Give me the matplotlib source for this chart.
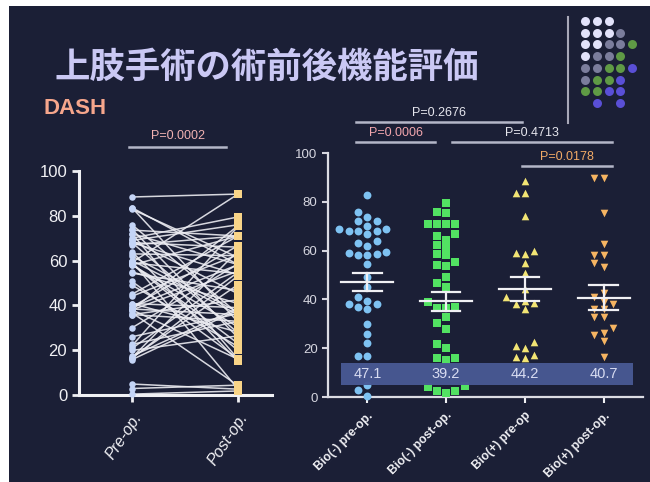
import matplotlib
matplotlib.use('Agg')
import matplotlib.pyplot as plt
from matplotlib.patches import Rectangle
import numpy as np

plt.rcParams['font.family'] = ['Liberation Sans', 'DejaVu Sans']

# DASH scores, one entry per patient (pre and post share the same index)
bio_neg_pre = [82.9, 76.0, 73.6, 72.0, 72.0, 70.0, 69.0, 69.0, 68.0, 68.0, 68.0, 67.0, 64.0,
               63.0, 62.0, 59.6, 59.0, 58.5, 58.0, 58.0, 54.4, 49.0, 45.0, 40.8, 39.3, 38.0,
               38.0, 36.7, 35.9, 30.0, 26.0, 22.0, 16.7, 16.7, 4.9, 2.9, 0.4]
bio_neg_post = [61.4, 36.3, 71.0, 16.0, 58.2, 79.5, 45.2, 76.0, 53.7, 66.0, 27.7, 71.0, 15.0,
                62.2, 37.0, 2.6, 54.2, 19.9, 71.0, 30.4, 46.6, 21.6, 71.0, 39.0, 66.7, 16.0,
                55.3, 4.2, 32.9, 58.5, 36.3, 75.3, 49.3, 64.4, 2.6, 4.4, 1.8]
bio_pos_pre = [88.4, 83.6, 83.6, 74.0, 60.0, 59.2, 58.6, 55.0, 50.7, 44.1, 40.8, 39.2, 38.4,
               38.0, 35.9, 22.6, 20.8, 19.9, 17.4, 16.4, 15.8]
bio_pos_post = [89.7, 32.6, 58.2, 25.6, 35.9, 89.7, 23.0, 40.8, 16.2, 62.6, 28.1, 58.2, 35.9,
                75.6, 42.5, 32.9, 54.8, 26.4, 38.8, 53.2, 38.0]

group_labels = ['Bio(-) pre-op.', 'Bio(-) post-op.', 'Bio(+) pre-op', 'Bio(+) post-op.']
group_means = [47.1, 39.2, 44.2, 40.7]
group_sem = [3.8, 4.0, 5.0, 5.1]
paired_labels = ['Pre-op.', 'Post-op.']

# (x start, x end, y, label, colour)
right_brackets = [
    (-0.14, 0.86, 104.5, 'P=0.0006', '#f2a6ae'),
    (1.08, 3.11, 104.5, 'P=0.4713', '#e6e6ee'),
    (-0.14, 1.96, 112.7, 'P=0.2676', '#e6e6ee'),
    (1.96, 3.11, 94.7, 'P=0.0178', '#f2aa66'),
]
left_bracket = (-0.03, 0.89, 110.7, 'P=0.0002', '#f2b2b2')

BG = '#1b1f36'
FG = '#f0f0f4'


def swarm_offsets(values, px_x, px_y, diam=7.0, step=9.3):
    vals = np.asarray(values)
    offs = np.zeros(len(vals))
    placed = []
    cands = [0] + [s * n for n in range(1, 12) for s in (-1, 1)]
    for i in np.argsort(vals):
        y = vals[i] * px_y
        for c in cands:
            x = c * step
            if all((x - qx) ** 2 + (y - qy) ** 2 >= diam ** 2 for qx, qy in placed):
                break
        placed.append((x, y))
        offs[i] = x / px_x
    return offs


fig = plt.figure(figsize=(6.5, 4.82), dpi=100, facecolor='white')
fig.patches.append(Rectangle((9 / 650, 0), 1, 1 - 6 / 482, transform=fig.transFigure,
                             facecolor=BG, edgecolor='none', zorder=-10))

# decoration layer in pixel units
deco = fig.add_axes([0, 0, 1, 1])
deco.set_xlim(0, 650)
deco.set_ylim(482, 0)
deco.axis('off')
deco.patch.set_alpha(0)
dot_grid = ['WWW..', 'WWWg.', 'WWggG', 'WggG.', 'ggGGB', 'gGGB.', 'GGBB.', '.B.B.']
dot_cols = {'W': '#e2e2fa', 'g': '#7b7d9c', 'G': '#5f9a45', 'B': '#5a4fd6'}
for r, row in enumerate(dot_grid):
    for c, ch in enumerate(row):
        if ch in dot_cols:
            deco.scatter(585 + c * 11.8, 21 + r * 11.7, s=42, color=dot_cols[ch], lw=0)
deco.plot([568, 568], [17, 123], color='#a8a8b8', lw=1.5)

fig.text(55 / 650, 1 - 67 / 482, '上肢手術の術前後機能評価', fontsize=25.5,
         family=['Noto Sans CJK JP', 'DejaVu Sans'], fontweight='bold',
         color='#cac8f4', va='center', ha='left')
fig.text(43 / 650, 1 - 108 / 482, 'DASH', fontsize=16, fontweight='bold',
         color='#f6a68c', va='center', ha='left')

# ---- left: paired plot ----
axl = fig.add_axes([79 / 650, 1 - 395 / 482, 193 / 650, 224 / 482])
axl.patch.set_alpha(0)
pre_all = bio_neg_pre + bio_pos_pre
post_all = bio_neg_post + bio_pos_post
for a, b in zip(pre_all, post_all):
    axl.plot([0, 1], [a, b], color='#ececf2', lw=1.1, alpha=0.9, zorder=2)
axl.scatter(np.zeros(len(pre_all)), pre_all, s=22, marker='o', color='#c4d4f6',
            lw=0, zorder=3, clip_on=False)
axl.scatter(np.ones(len(post_all)), post_all, s=26, marker='s', color='#f8d488',
            lw=0, zorder=3, clip_on=False)
axl.set_xlim(-0.5, 1.32)
axl.set_ylim(0, 100)
axl.set_yticks(range(0, 101, 20))
axl.set_xticks([0, 1])
axl.set_xticklabels(paired_labels, rotation=56, ha='right', va='top',
                    rotation_mode='anchor', fontsize=11.5, color='#e4e4ec')
for lab in axl.get_xticklabels():
    lab.set_style('italic')
axl.tick_params(axis='y', labelsize=12, colors=FG, width=2, length=5, direction='out')
axl.tick_params(axis='x', colors=FG, width=2, length=5, direction='out', pad=6)
for side in ('top', 'right'):
    axl.spines[side].set_visible(False)
for side in ('left', 'bottom'):
    axl.spines[side].set_color(FG)
    axl.spines[side].set_linewidth(2.2)

x0, x1, yb, txt, col = left_bracket
axl.plot([x0, x1], [yb, yb], color='#b4b6c8', lw=1.8, clip_on=False)
axl.text((x0 + x1) / 2, yb + 2.2, txt, ha='center', va='bottom', fontsize=9, color=col)

# ---- right: group scatter with mean and SEM ----
axr = fig.add_axes([328 / 650, 1 - 397 / 482, 315 / 650, 244 / 482])
axr.patch.set_alpha(0)
groups = [bio_neg_pre, bio_neg_post, bio_pos_pre, bio_pos_post]
styles = [('o', '#7ec2f2', 32), ('s', '#52e262', 30), ('^', '#f2e474', 30), ('v', '#f6b462', 30)]
for i, (vals, (mk, col, sz)) in enumerate(zip(groups, styles)):
    offs = swarm_offsets(vals, px_x=78.75, px_y=2.44)
    axr.scatter(i + offs, vals, marker=mk, s=sz, color=col, lw=0, zorder=3, clip_on=False)
    m, e = group_means[i], group_sem[i]
    axr.plot([i - 0.33, i + 0.33], [m, m], color=FG, lw=1.6, zorder=4)
    axr.plot([i, i], [m - e, m + e], color=FG, lw=1.6, zorder=4)
    for yy in (m - e, m + e):
        axr.plot([i - 0.18, i + 0.18], [yy, yy], color=FG, lw=1.6, zorder=4)

axr.add_patch(Rectangle((-0.33, 4.9), 3.70, 9.0, facecolor='#485893', edgecolor='none',
                        alpha=0.97, zorder=5))
for i, m in enumerate(group_means):
    axr.text(i, 9.4, f'{m:.1f}', ha='center', va='center', fontsize=10.5,
             color='#d8dcf2', zorder=6)

axr.set_xlim(-0.5, 3.5)
axr.set_ylim(0, 100)
axr.set_yticks(range(0, 101, 20))
axr.set_xticks(range(4))
axr.set_xticklabels(group_labels, rotation=45, ha='right', va='top', rotation_mode='anchor',
                    fontsize=8.8, fontweight='bold', color=FG)
axr.tick_params(axis='y', labelsize=9.5, colors='#d6d6e0', width=1.5, length=4,
                direction='out')
axr.tick_params(axis='x', colors=FG, width=1.5, length=4, direction='out', pad=5)
for side in ('top', 'right'):
    axr.spines[side].set_visible(False)
for side in ('left', 'bottom'):
    axr.spines[side].set_color('#dcdce4')
    axr.spines[side].set_linewidth(1.6)

for x0, x1, yb, txt, col in right_brackets:
    axr.plot([x0, x1], [yb, yb], color='#b4b6c8', lw=1.8, clip_on=False)
    axr.text((x0 + x1) / 2, yb + 1.4, txt, ha='center', va='bottom', fontsize=9, color=col)

fig.savefig('out.png', dpi=100, facecolor=fig.get_facecolor())
